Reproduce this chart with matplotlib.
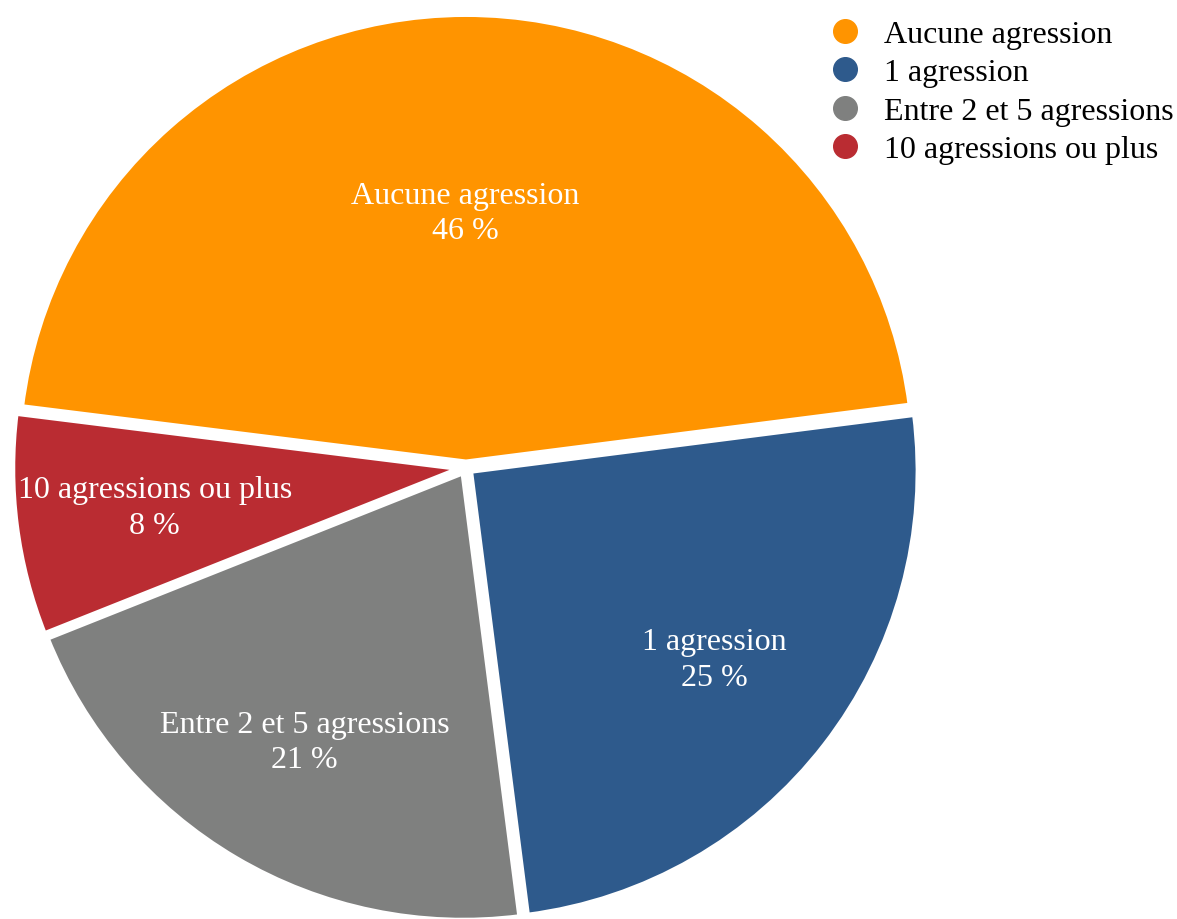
import numpy as np
import matplotlib
matplotlib.use('Agg')
import matplotlib.pyplot as plt
from matplotlib.lines import Line2D

plt.rcParams['font.family'] = ['Liberation Serif', 'DejaVu Serif']

labels = ['Aucune agression', '1 agression', 'Entre 2 et 5 agressions', '10 agressions ou plus']
values = [46, 25, 21, 8]
colors = ['#FF9400', '#2E5A8C', '#7F807F', '#BA2C32']
label_dist = [0.56, 0.69, 0.70, 0.69]

fig = plt.figure(figsize=(11.77, 9.2), dpi=100)
ax = fig.add_axes([0.0094, -0.004, 0.773, 0.989])

wedges, _ = ax.pie(values, colors=colors, startangle=172.9, counterclock=False,
                   explode=[0.012] * 4, radius=0.985,
                   wedgeprops=dict(edgecolor='white', linewidth=4))
ax.set_xlim(-1, 1)
ax.set_ylim(-1, 1)
ax.set_aspect('equal')

for w, lab, v, d in zip(wedges, labels, values, label_dist):
    ang = np.deg2rad((w.theta1 + w.theta2) / 2)
    ax.text(d * np.cos(ang), d * np.sin(ang), '%s\n%d %%' % (lab, v),
            ha='center', va='center', color='white', fontsize=23, linespacing=1.3)

handles = [Line2D([0], [0], marker='o', linestyle='', markersize=17,
                  markerfacecolor=c, markeredgecolor=c) for c in colors]
fig.legend(handles, labels, loc='upper right', bbox_to_anchor=(1.0145, 1.0),
           frameon=False, fontsize=23, handletextpad=0.4, labelspacing=0.28,
           borderaxespad=0.25, handlelength=1.6)

fig.savefig('out.png', dpi=100)
